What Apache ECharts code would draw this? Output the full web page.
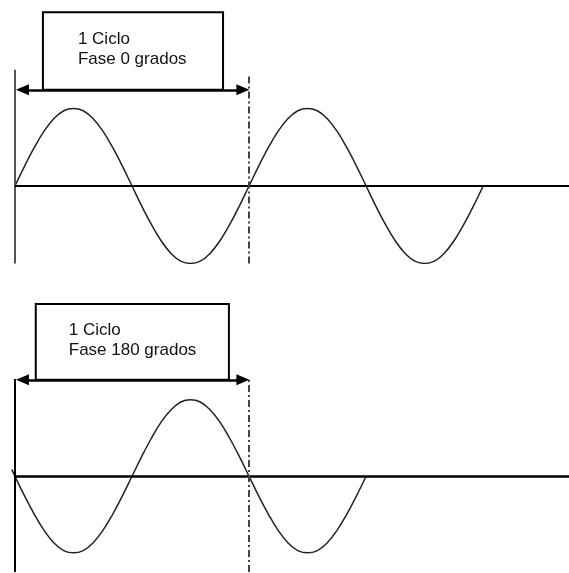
<!DOCTYPE html>
<html><head><meta charset="utf-8">
<script src="https://cdn.jsdelivr.net/npm/echarts@6/dist/echarts.min.js"></script>
<style>html,body{margin:0;padding:0;background:#fff}#c{width:569px;height:573px}</style>
</head><body><div id="c"></div>
<script>
// ---- data ----
const cycleLabels = ['1 Ciclo\nFase 0 grados', '1 Ciclo\nFase 180 grados'];
const cycleDeg = 360;
const topPhaseDeg = [0,15,30,45,60,75,90,105,120,135,150,165,180,195,210,225,240,255,270,285,300,315,330,345,
  360,375,390,405,420,435,450,465,480,495,510,525,540,555,570,585,600,615,630,645,660,675,690,705,720];
const topWave = [0,0.26,0.5,0.71,0.87,0.97,1,0.97,0.87,0.71,0.5,0.26,0,-0.26,-0.5,-0.71,-0.87,-0.97,-1,-0.97,-0.87,-0.71,-0.5,-0.26,
  0,0.26,0.5,0.71,0.87,0.97,1,0.97,0.87,0.71,0.5,0.26,0,-0.26,-0.5,-0.71,-0.87,-0.97,-1,-0.97,-0.87,-0.71,-0.5,-0.26,0];
const bottomPhaseDeg = [-5,0,15,30,45,60,75,90,105,120,135,150,165,180,195,210,225,240,255,270,285,300,315,330,345,
  360,375,390,405,420,435,450,465,480,495,510,525,540];
const bottomWave = [0.09,0,-0.26,-0.5,-0.71,-0.87,-0.97,-1,-0.97,-0.87,-0.71,-0.5,-0.26,0,0.26,0.5,0.71,0.87,0.97,1,0.97,0.87,0.71,0.5,0.26,
  0,-0.26,-0.5,-0.71,-0.87,-0.97,-1,-0.97,-0.87,-0.71,-0.5,-0.26,0];

const pairs = (xs, ys) => xs.map((x, i) => [x, ys[i]]);
const FONT = '"Liberation Sans", Arial, sans-serif';

function panel(idx, xs, ys, o) {
  return {
    type: 'line', xAxisIndex: idx, yAxisIndex: idx,
    data: pairs(xs, ys), smooth: 0.4, showSymbol: false, symbol: 'none',
    lineStyle: {color: '#222', width: 1.5}, z: 3,
    markLine: {
      silent: true, animation: false, symbol: 'none', label: {show: false},
      emphasis: {disabled: true},
      data: [
        [{coord: [0, o.yMin], lineStyle: {color: o.vColor, width: 2, type: 'solid'}}, {coord: [0, o.vTop]}],
        [{coord: [0, 0], lineStyle: {color: '#000', width: o.hWidth, type: 'solid'}}, {coord: [852, 0]}],
        [{coord: [cycleDeg, o.yMin], lineStyle: {color: '#444', width: 2, type: [7, 3, 2, 3]}}, {coord: [cycleDeg, o.dTop]}],
        [{coord: [11.5, o.arrowY], symbol: 'triangle', symbolSize: [11, 13], lineStyle: {color: '#000', width: 2.5, type: 'solid'}},
         {coord: [cycleDeg - 9.5, o.arrowY], symbol: 'triangle', symbolSize: [11, 13]}]
      ]
    },
    markArea: {
      silent: true, animation: false,
      itemStyle: {color: '#fff', borderColor: '#000', borderWidth: 2},
      label: {show: true, position: o.labelPos, color: '#111', fontFamily: FONT, fontSize: 17, lineHeight: 20, align: 'left', verticalAlign: 'top'},
      emphasis: {disabled: true},
      data: [[{coord: [o.boxL, o.yMax], name: cycleLabels[idx]}, {coord: [o.boxR, o.arrowY]}]]
    }
  };
}

const chart = echarts.init(document.getElementById('c'));
chart.setOption({
  animation: false,
  backgroundColor: '#fff',
  grid: [
    {left: 0, right: 0, top: 11.5, height: 252},
    {left: 0, right: 0, top: 304, height: 268}
  ],
  xAxis: [
    {type: 'value', gridIndex: 0, min: -23, max: 852, show: false},
    {type: 'value', gridIndex: 1, min: -23, max: 852, show: false}
  ],
  yAxis: [
    {type: 'value', gridIndex: 0, min: -1, max: 2.25, show: false},
    {type: 'value', gridIndex: 1, min: -1.25, max: 2.25, show: false}
  ],
  series: [
    panel(0, topPhaseDeg, topWave, {yMin: -1, yMax: 2.24, vTop: 1.5, dTop: 1.45, arrowY: 1.24, vColor: '#555', hWidth: 1.8, boxL: 43, boxR: 320, labelPos: [36, 18]}),
    panel(1, bottomPhaseDeg, bottomWave, {yMin: -1.25, yMax: 2.25, vTop: 1.27, dTop: 1.26, arrowY: 1.26, vColor: '#000', hWidth: 2.5, boxL: 32, boxR: 329, labelPos: [34, 17.5]})
  ]
});
</script></body></html>
